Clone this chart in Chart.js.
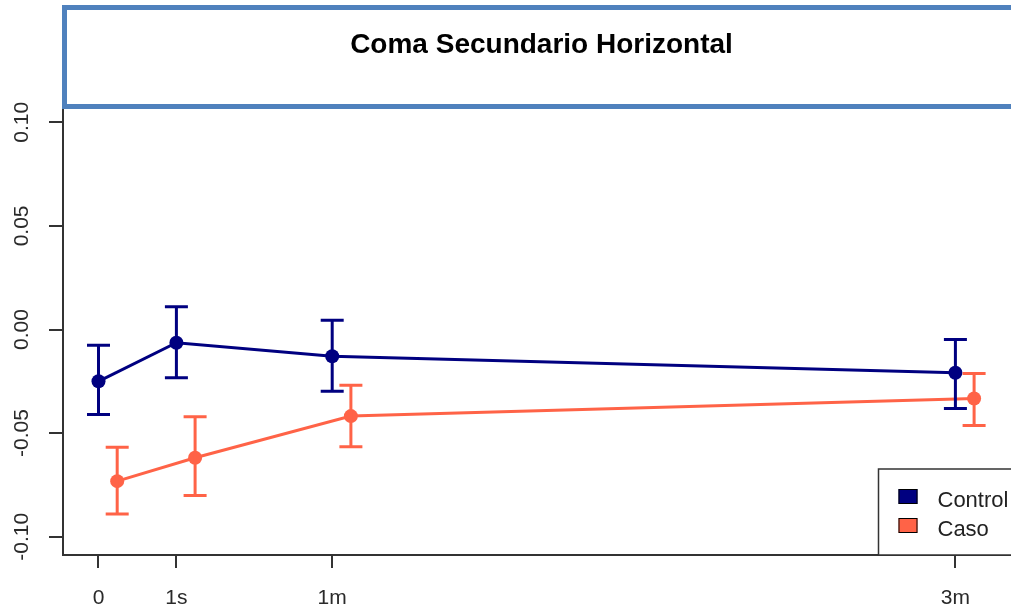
<!DOCTYPE html>
<html>
<head>
<meta charset="utf-8">
<script src="https://cdn.jsdelivr.net/npm/chart.js@4.4.1/dist/chart.umd.min.js"></script>
<style>
    body { margin: 0; background: #fff; }
    #wrap { position: relative; width: 1011px; height: 612px; overflow: hidden; }
    #titleBox {
        position: absolute;
        left: 62px;
        top: 5px;
        width: 949px;
        height: 74px;
        padding-top: 20px;
        border: 5px solid #4F81BD;
        font-family: "Liberation Sans", Arial, sans-serif;
        font-weight: bold;
        font-size: 28px;
        line-height: 28px;
        text-align: center;
        color: #000;
    }
</style>
</head>
<body>
<div id="wrap">
    <canvas id="comaChart" width="1011" height="612"></canvas>
    <div id="titleBox">Coma Secundario Horizontal</div>
</div>
<script>
// Ejes
const xTickValues = [0, 1, 3, 11];
const xTickLabels = ['0', '1s', '1m', '3m'];
const yTickValues = [-0.10, -0.05, 0.00, 0.05, 0.10];

// Series
const seriesNames = ['Control', 'Caso'];
const controlX = [0, 1, 3, 11];
const controlMean = [-0.0250, -0.0064, -0.0129, -0.0209];
const controlLow = [-0.0410, -0.0233, -0.0298, -0.0381];
const controlHigh = [-0.0076, 0.0110, 0.0045, -0.0048];

const casoX = [0.24, 1.24, 3.24, 11.24];
const casoMean = [-0.0732, -0.0619, -0.0418, -0.0333];
const casoLow = [-0.0890, -0.0801, -0.0566, -0.0463];
const casoHigh = [-0.0568, -0.0421, -0.0269, -0.0212];

const controlColor = '#000080';
const casoColor = '#FF6347';
const axisColor = '#333333';

Chart.defaults.font.family = '"Liberation Sans", Arial, sans-serif';

function toPoints(xs, ys) {
    return xs.map((x, i) => ({ x: x, y: ys[i] }));
}

// Barras de error (media +/- intervalo)
const errorBars = {
    id: 'errorBars',
    afterDatasetsDraw(chart) {
        const ctx = chart.ctx;
        const xs = chart.scales.x;
        const ys = chart.scales.y;
        chart.data.datasets.forEach(ds => {
            ctx.save();
            ctx.strokeStyle = ds.borderColor;
            ctx.lineWidth = 3;
            ds.data.forEach((p, i) => {
                const px = xs.getPixelForValue(p.x);
                const top = ys.getPixelForValue(ds.high[i]);
                const bottom = ys.getPixelForValue(ds.low[i]);
                ctx.beginPath();
                ctx.moveTo(px, top);
                ctx.lineTo(px, bottom);
                ctx.moveTo(px - 11.5, top);
                ctx.lineTo(px + 11.5, top);
                ctx.moveTo(px - 11.5, bottom);
                ctx.lineTo(px + 11.5, bottom);
                ctx.stroke();
            });
            ctx.restore();
        });
    }
};

// Leyenda en la esquina inferior derecha
const boxLegend = {
    id: 'boxLegend',
    afterDraw(chart) {
        const ctx = chart.ctx;
        const area = chart.chartArea;
        const left = area.right - 132.5;
        const top = area.bottom - 86;
        ctx.save();
        ctx.fillStyle = '#fff';
        ctx.fillRect(left, top, area.right - left + 5, area.bottom - top);
        ctx.strokeStyle = axisColor;
        ctx.lineWidth = 1.5;
        ctx.strokeRect(left, top, area.right - left + 10, area.bottom - top);
        ctx.font = '22px "Liberation Sans", Arial, sans-serif';
        ctx.textBaseline = 'alphabetic';
        chart.data.datasets.forEach((ds, i) => {
            const rowY = top + 28 + i * 29;
            ctx.fillStyle = ds.borderColor;
            ctx.fillRect(left + 20, rowY - 8, 19, 15);
            ctx.strokeStyle = '#000';
            ctx.lineWidth = 1;
            ctx.strokeRect(left + 20.5, rowY - 7.5, 18, 14);
            ctx.fillStyle = '#222';
            ctx.fillText(ds.label, left + 59, rowY + 10);
        });
        ctx.restore();
    }
};

new Chart(document.getElementById('comaChart'), {
    type: 'scatter',
    data: {
        datasets: [
            {
                label: seriesNames[0],
                data: toPoints(controlX, controlMean),
                low: controlLow,
                high: controlHigh,
                showLine: true,
                borderColor: controlColor,
                backgroundColor: controlColor,
                borderWidth: 3,
                pointRadius: 7,
                pointBorderWidth: 0
            },
            {
                label: seriesNames[1],
                data: toPoints(casoX, casoMean),
                low: casoLow,
                high: casoHigh,
                showLine: true,
                borderColor: casoColor,
                backgroundColor: casoColor,
                borderWidth: 3,
                pointRadius: 7,
                pointBorderWidth: 0
            }
        ]
    },
    options: {
        responsive: false,
        animation: false,
        layout: { autoPadding: false, padding: { top: 108, left: 0, right: 0, bottom: 0 } },
        plugins: {
            legend: { display: false },
            title: { display: false },
            tooltip: { enabled: false }
        },
        scales: {
            x: {
                type: 'linear',
                min: -0.4557,
                max: 11.7137,
                afterFit(scale) { scale.height = 57; },
                afterBuildTicks(scale) { scale.ticks = xTickValues.map(v => ({ value: v })); },
                grid: { display: true, drawOnChartArea: false, drawTicks: true, tickLength: 13, color: axisColor, lineWidth: 2 },
                border: { display: true, color: axisColor, width: 2 },
                ticks: {
                    padding: 18,
                    color: '#2a2a2a',
                    font: { size: 21 },
                    callback: v => xTickLabels[xTickValues.indexOf(v)]
                }
            },
            y: {
                min: -0.10883,
                max: 0.10690,
                afterFit(scale) { scale.width = 63; },
                afterBuildTicks(scale) { scale.ticks = yTickValues.map(v => ({ value: v })); },
                grid: { display: true, drawOnChartArea: false, drawTicks: true, tickLength: 14, color: axisColor, lineWidth: 2 },
                border: { display: true, color: axisColor, width: 2 },
                ticks: {
                    minRotation: 90,
                    maxRotation: 90,
                    crossAlign: 'center',
                    padding: 3,
                    color: '#2a2a2a',
                    font: { size: 21 },
                    callback: v => v.toFixed(2)
                }
            }
        }
    },
    plugins: [errorBars, boxLegend]
});
</script>
</body>
</html>
